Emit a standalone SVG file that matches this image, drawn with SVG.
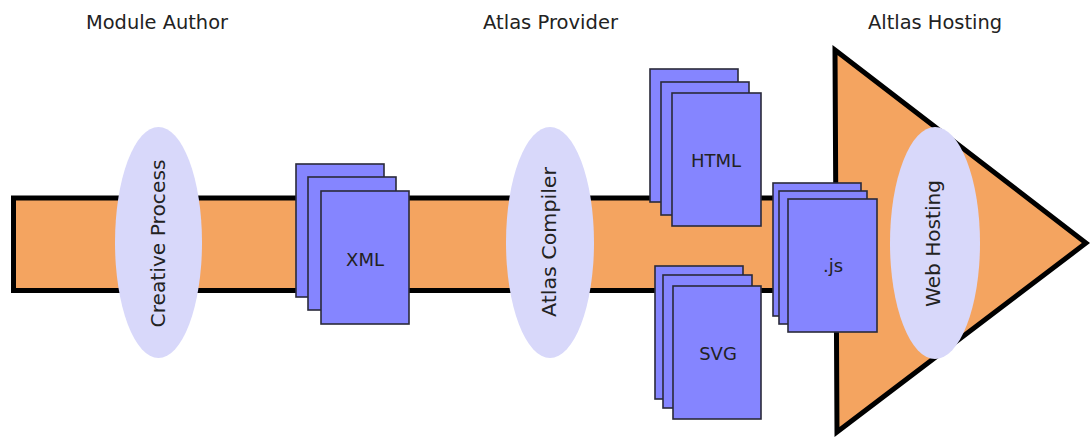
<svg xmlns="http://www.w3.org/2000/svg" width="1090" height="437" viewBox="0 0 1090 437">
  <defs>
    <style>
      .lbl { font-family: "DejaVu Sans", Verdana, sans-serif; font-size: 19px; fill: #222; }
      .doc { font-family: "DejaVu Sans", Verdana, sans-serif; font-size: 18px; fill: #222; text-anchor: middle; }
      .vt { font-family: "DejaVu Sans", Verdana, sans-serif; font-size: 19px; fill: #222; text-anchor: middle; }
      .page { fill: #8585ff; stroke: #2a2a3a; stroke-width: 1.6; }
      .ell { fill: #d8d8fa; }
      .flow { fill: #f4a460; stroke: #000; stroke-width: 5; stroke-linejoin: miter; }
    </style>
    <g id="stack">
      <rect class="page" x="0" y="0" width="88" height="133"/>
      <rect class="page" x="12" y="13" width="88" height="133"/>
      <rect class="page" x="25" y="27" width="88" height="133"/>
    </g>
  </defs>
  <rect width="1090" height="437" fill="#fff"/>

  <g id="headers">
    <text class="lbl" x="86" y="29" textLength="142" lengthAdjust="spacingAndGlyphs">Module Author</text>
    <text class="lbl" x="483" y="29" textLength="135" lengthAdjust="spacingAndGlyphs">Atlas Provider</text>
    <text class="lbl" x="868" y="29" textLength="134" lengthAdjust="spacingAndGlyphs">Altlas Hosting</text>
  </g>

  <g id="connectors">
    <rect class="flow" x="13.5" y="198" width="822" height="92.5"/>
    <polygon class="flow" points="835,50 1086,243 837,432"/>
  </g>

  <g id="creative-process">
    <ellipse class="ell" cx="158.5" cy="242.5" rx="43.5" ry="115.5"/>
    <text class="vt" transform="translate(165,243.5) rotate(-90)" textLength="168" lengthAdjust="spacingAndGlyphs">Creative Process</text>
  </g>

  <g id="atlas-compiler">
    <ellipse class="ell" cx="550" cy="242.5" rx="44" ry="115.5"/>
    <text class="vt" transform="translate(556,242) rotate(-90)" textLength="150" lengthAdjust="spacingAndGlyphs">Atlas Compiler</text>
  </g>

  <g id="web-hosting">
    <ellipse class="ell" cx="935" cy="243" rx="45" ry="116"/>
    <text class="vt" transform="translate(940,243.5) rotate(-90)" textLength="127" lengthAdjust="spacingAndGlyphs">Web Hosting</text>
  </g>

  <g id="xml">
    <use href="#stack" x="296" y="164"/>
    <text class="doc" x="365" y="266">XML</text>
  </g>

  <g id="html">
    <rect class="page" x="650" y="69" width="88" height="133"/>
    <rect class="page" x="661" y="82" width="88" height="133"/>
    <rect class="page" x="672" y="93" width="89" height="133"/>
    <text class="doc" x="716" y="167">HTML</text>
  </g>

  <g id="svg">
    <rect class="page" x="655" y="266" width="88" height="133"/>
    <rect class="page" x="663" y="275" width="89" height="133"/>
    <rect class="page" x="673" y="286" width="88" height="133"/>
    <text class="doc" x="718" y="360">SVG</text>
  </g>

  <g id="js">
    <rect class="page" x="773" y="183" width="88" height="133"/>
    <rect class="page" x="779" y="191" width="88" height="133"/>
    <rect class="page" x="788" y="199" width="89" height="133"/>
    <text class="doc" x="833" y="272">.js</text>
  </g>
</svg>
